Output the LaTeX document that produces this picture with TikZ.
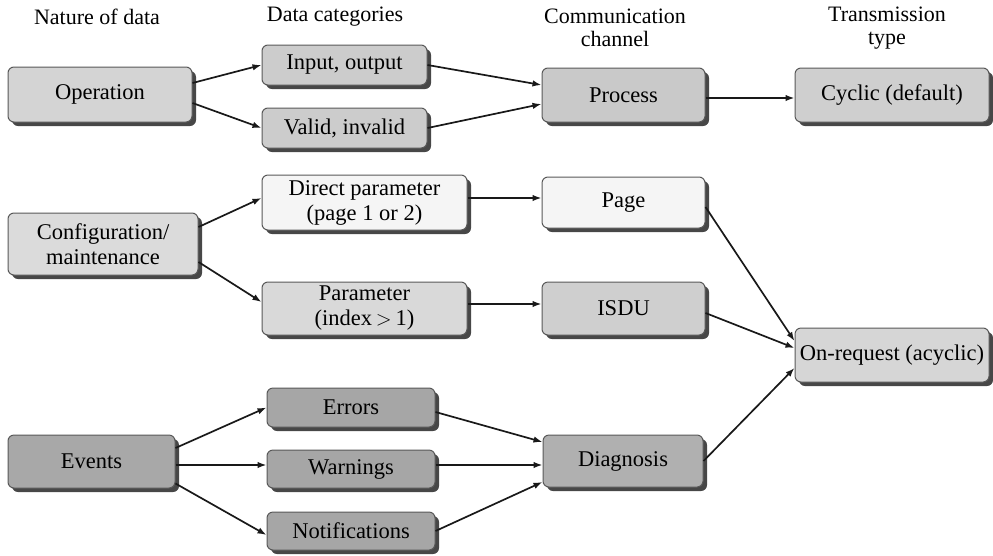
\documentclass[tikz,border=0pt]{standalone}
\usepackage{fontspec}
\setmainfont{Liberation Serif}
\usetikzlibrary{arrows.meta,shadows}
\begin{document}
\begin{tikzpicture}[x=1pt,y=-1pt,
  box/.style={draw=black!65, line width=1pt, rounded corners=6pt, align=center,
    inner sep=0pt, font=\fontsize{22.5}{25}\selectfont,
    drop shadow={shadow xshift=4pt, shadow yshift=-4pt, fill=black!72, opacity=1}},
  head/.style={align=center, font=\fontsize{22}{23}\selectfont, inner sep=0pt},
  arr/.style={-{Latex[length=9pt,width=6.5pt]}, line width=1.7pt, black!90},
]
\useasboundingbox (0,0) rectangle (993,555);

% column headings
\node[head] (h1) at (97,17) {Nature of data};
\node[head] (h2) at (335,17) {Data categories};
\node[head] (h3) at (615,28) {Communication\\channel};
\node[head] (h4) at (887,28) {Transmission\\type};

% operation row
\node[box, fill=black!17, minimum width=184pt, minimum height=55pt] (op) at (100,94.5) {Operation};
\node[box, fill=black!20, minimum width=165pt, minimum height=40pt] (io) at (344.5,65) {Input, output};
\node[box, fill=black!20, minimum width=165pt, minimum height=40pt] (vi) at (344.5,128) {Valid, invalid};
\node[box, fill=black!21, minimum width=163pt, minimum height=54pt] (proc) at (623.5,95) {Process};
\node[box, fill=black!19, minimum width=194pt, minimum height=54pt] (cyc) at (892,95) {Cyclic (default)};

% configuration row
\node[box, fill=black!14, minimum width=190pt, minimum height=62pt] (conf) at (103,244) {Configuration/\\maintenance};
\node[box, fill=black!4, minimum width=205pt, minimum height=55pt] (dp) at (364.5,202.5) {Direct parameter\\(page 1 or 2)};
\node[box, fill=black!15, minimum width=205pt, minimum height=53pt] (par) at (364.5,308.5) {Parameter\\(index\,$>$\,1)};
\node[box, fill=black!4, minimum width=163pt, minimum height=51pt] (page) at (623.5,202.5) {Page};
\node[box, fill=black!19, minimum width=163pt, minimum height=53pt] (isdu) at (623.5,308.5) {ISDU};
\node[box, fill=black!16, minimum width=194pt, minimum height=54pt] (onr) at (892,355) {On-request (acyclic)};

% events row
\node[box, fill=black!34, minimum width=167pt, minimum height=53pt] (ev) at (91.5,461.5) {Events};
\node[box, fill=black!35, minimum width=168pt, minimum height=39pt] (err) at (351,407.5) {Errors};
\node[box, fill=black!35, minimum width=168pt, minimum height=38pt] (warn) at (351,469) {Warnings};
\node[box, fill=black!35, minimum width=168pt, minimum height=38pt] (notif) at (351,531) {Notifications};
\node[box, fill=black!31, minimum width=160pt, minimum height=52pt] (diag) at (623,461) {Diagnosis};

% connectors
\draw[arr] ([yshift=11.5pt]op.east) -- (io.west);
\draw[arr] ([yshift=-8.5pt]op.east) -- (vi.west);
\draw[arr] (io.east) -- ([yshift=10pt]proc.west);
\draw[arr] (vi.east) -- ([yshift=-9pt]proc.west);
\draw[arr] ([yshift=-3pt]proc.east) -- ([yshift=-3pt]cyc.west);

\draw[arr] ([yshift=17pt]conf.east) -- ([yshift=4.5pt]dp.west);
\draw[arr] ([yshift=-18pt]conf.east) -- ([yshift=6.5pt]par.west);
\draw[arr] ([yshift=4.5pt]dp.east) -- ([yshift=4.5pt]page.west);
\draw[arr] ([yshift=4.5pt]par.east) -- ([yshift=4.5pt]isdu.west);
\draw[arr] ([yshift=-4.5pt]page.east) -- ([yshift=14pt]onr.west);
\draw[arr] ([yshift=-4.5pt]isdu.east) -- ([yshift=7pt]onr.west);
\draw[arr] (diag.east) -- ([yshift=-13pt]onr.west);

\draw[arr] ([yshift=13.5pt]ev.east) -- (err.west);
\draw[arr] ([yshift=-3.5pt]ev.east) -- ([yshift=4pt]warn.west);
\draw[arr] ([yshift=-22pt]ev.east) -- ([yshift=-4pt]notif.west);
\draw[arr] ([yshift=-4.5pt]err.east) -- ([yshift=19pt]diag.west);
\draw[arr] ([yshift=4pt]warn.east) -- ([yshift=-4pt]diag.west);
\draw[arr] (notif.east) -- ([yshift=-21pt]diag.west);
\end{tikzpicture}
\end{document}
